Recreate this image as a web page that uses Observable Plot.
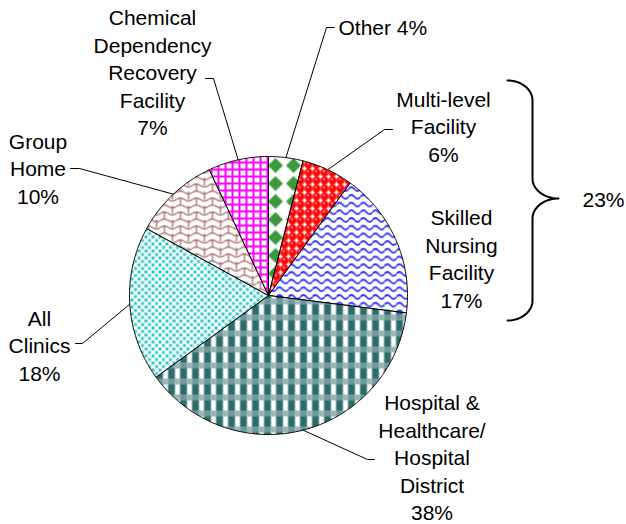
<!DOCTYPE html>
<html><head><meta charset="utf-8">
<script src="https://cdn.jsdelivr.net/npm/d3@7"></script>
<script src="https://cdn.jsdelivr.net/npm/@observablehq/plot@0.6"></script>
<style>
html,body{margin:0;padding:0;background:#fff;}
#chart svg{display:block;}
</style></head><body>
<svg width="0" height="0" style="position:absolute">
<defs>
 <pattern id="pOther" patternUnits="userSpaceOnUse" width="18" height="18" patternTransform="translate(-4,-6)">
  <rect width="18" height="18" fill="#fff"/>
  <polygon points="9,1.5 16.5,9 9,16.5 1.5,9" fill="#3c9a3c"/>
 </pattern>
 <pattern id="pMulti" patternUnits="userSpaceOnUse" width="8" height="8">
  <rect width="8" height="8" fill="#fff"/>
  <circle cx="4" cy="4" r="3.9" fill="#ff0000"/>
  <circle cx="3.4" cy="2.8" r="1.1" fill="#ffb4b4"/>
 </pattern>
 <pattern id="pSkilled" patternUnits="userSpaceOnUse" width="12" height="7.7">
  <rect width="12" height="7.7" fill="#fff"/>
  <path d="M0,3.85 Q3,0 6,3.85 T12,3.85" fill="none" stroke="#3535ff" stroke-width="1.9"/>
 </pattern>
 <pattern id="pHosp" patternUnits="userSpaceOnUse" width="12" height="16">
  <rect width="12" height="16" fill="#fff"/>
  <rect x="0" y="10" width="12" height="6" fill="#9ab8b8"/>
  <rect x="0" y="10" width="6" height="6" fill="#6f9999"/>
  <rect x="0" y="0" width="6" height="10" fill="#2e6b6b"/>
  <rect x="6" y="0" width="1" height="10" fill="#9ab8b8"/>
  <rect x="11" y="0" width="1" height="10" fill="#9ab8b8"/>
 </pattern>
 <pattern id="pClinics" patternUnits="userSpaceOnUse" width="7" height="7">
  <rect width="7" height="7" fill="#fff"/>
  <rect x="0.5" y="0.5" width="3" height="3" fill="#2ec8c8"/>
  <rect x="4" y="4" width="3" height="3" fill="#2ec8c8"/>
 </pattern>
 <pattern id="pGroup" patternUnits="userSpaceOnUse" width="16" height="14">
  <rect width="16" height="14" fill="#fff"/>
  <path d="M0,3 Q4,0 8,3 T16,3 M0,10 Q4,7 8,10 T16,10 M4,2 L4,9 M12,9 L12,14 M12,0 L12,3" fill="none" stroke="#a86c6c" stroke-width="1.3"/>
 </pattern>
 <pattern id="pChem" patternUnits="userSpaceOnUse" width="7" height="7">
  <rect width="7" height="7" fill="#ff00ff"/>
  <rect x="2" y="2" width="5" height="5" fill="#fff"/>
 </pattern>
</defs>
</svg>
<div id="chart"></div>
<script>
// ---- data ----
const categories = ["Other", "Multi-level\nFacility", "Skilled\nNursing\nFacility", "Hospital &\nHealthcare/\nHospital\nDistrict", "All\nClinics", "Group\nHome", "Chemical\nDependency\nRecovery\nFacility"];
const values = [4, 6, 17, 38, 18, 10, 7];
const bracketed = [1, 2]; // Multi-level + Skilled Nursing
const fills = ["url(#pOther)", "url(#pMulti)", "url(#pSkilled)", "url(#pHosp)", "url(#pClinics)", "url(#pGroup)", "url(#pChem)"];

// ---- layout (chart units, pie center at 0,0, y up) ----
const R = 139;
const labelPos = [
  {x: 70, y: 269, anchor: "start", inline: true, elbow: [58, 268], end: [66, 268]},
  {x: 175, y: 170, anchor: "middle", elbow: [116, 166], end: [124, 166]},
  {x: 193, y: 38, anchor: "middle"},
  {x: 163.5, y: -161, anchor: "middle", elbow: [99, -164], end: [106, -164]},
  {x: -229, y: -49, anchor: "middle", elbow: [-186, -48], end: [-193, -48]},
  {x: -230.5, y: 128, anchor: "middle", elbow: [-189, 127], end: [-198, 127]},
  {x: -116, y: 224, anchor: "middle", elbow: [-55, 217], end: [-63, 217]}
];
const brace = {x0: 239, xm: 264, xa: 290, top: 215, bottom: -25, apex: 97, ry: 20};
const braceLabel = {x: 314, y: 97};

const total = d3.sum(values);
let acc = 0;
const slices = values.map((v, i) => {
  const a0 = acc / total * 2 * Math.PI; acc += v;
  const a1 = acc / total * 2 * Math.PI;
  return {i, a0, a1, mid: (a0 + a1) / 2};
});
function slicePts(s) {
  const n = Math.max(4, Math.ceil((s.a1 - s.a0) / 0.01));
  const pts = [[0, 0]];
  for (let k = 0; k <= n; k++) {
    const a = s.a0 + (s.a1 - s.a0) * k / n;
    pts.push([R * Math.sin(a), R * Math.cos(a)]);
  }
  pts.push([0, 0]);
  return pts;
}
const labels = slices.map(s => {
  const L = labelPos[s.i];
  const txt = L.inline ? `${categories[s.i]} ${values[s.i]}%` : `${categories[s.i]}\n${values[s.i]}%`;
  return {x: L.x, y: L.y, anchor: L.anchor, text: txt};
});
const leaders = slices.filter(s => labelPos[s.i].elbow).map(s => {
  const L = labelPos[s.i];
  return [[R * Math.sin(s.mid), R * Math.cos(s.mid)], L.elbow, L.end];
});
function bracePts(b) {
  const pts = [];
  const N = 20;
  for (let k = 0; k <= N; k++) { const t = k / N * Math.PI / 2; pts.push([b.x0 + (b.xm - b.x0) * Math.sin(t), b.top - b.ry + b.ry * Math.cos(t)]); }
  for (let k = 0; k <= N; k++) { const t = k / N * Math.PI / 2; pts.push([b.xa - (b.xa - b.xm) * Math.cos(t), b.apex + b.ry - b.ry * Math.sin(t)]); }
  for (let k = 0; k <= N; k++) { const t = k / N * Math.PI / 2; pts.push([b.xa - (b.xa - b.xm) * Math.sin(t), b.apex - b.ry + b.ry * Math.cos(t)]); }
  for (let k = 0; k <= N; k++) { const t = k / N * Math.PI / 2; pts.push([b.x0 + (b.xm - b.x0) * Math.cos(t), b.bottom + b.ry - b.ry * Math.sin(t)]); }
  return pts;
}
const braceTotal = d3.sum(bracketed, i => values[i]);
const textOpts = {x: "x", y: "y", text: "text", fontSize: 21, lineHeight: 1.31, fill: "#000"};

const chart = Plot.plot({
  width: 626, height: 524, margin: 0,
  style: {fontFamily: "'Liberation Sans', Arial, sans-serif", background: "#fff", color: "#000"},
  x: {domain: [-268, 358], axis: null},
  y: {domain: [-229, 295], axis: null},
  marks: [
    ...slices.map(s => Plot.line(slicePts(s), {x: d => d[0], y: d => d[1], fill: fills[s.i], stroke: "#000", strokeWidth: 1, strokeLinejoin: "miter"})),
    ...leaders.map(pts => Plot.line(pts, {x: d => d[0], y: d => d[1], stroke: "#000", strokeWidth: 1})),
    Plot.line(bracePts(brace), {x: d => d[0], y: d => d[1], stroke: "#000", strokeWidth: 2}),
    Plot.text(labels.filter(d => d.anchor === "middle"), {...textOpts, textAnchor: "middle"}),
    Plot.text(labels.filter(d => d.anchor === "start"), {...textOpts, textAnchor: "start"}),
    Plot.text([{x: braceLabel.x, y: braceLabel.y, text: `${braceTotal}%`}], {...textOpts, textAnchor: "start"})
  ]
});
document.getElementById("chart").appendChild(chart);
</script>
</body></html>
